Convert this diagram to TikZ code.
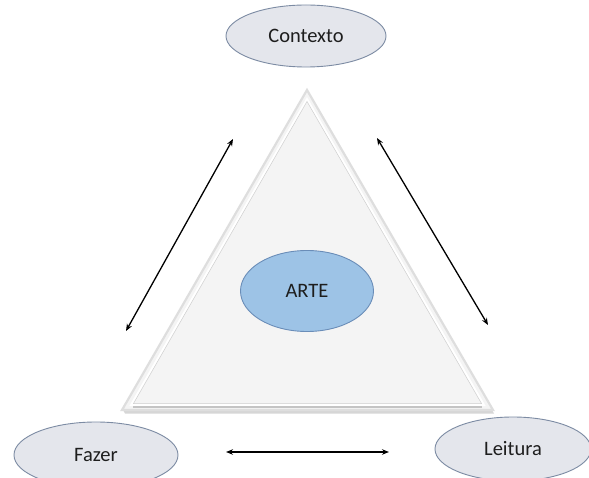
\documentclass[tikz,border=0pt]{standalone}
\usepackage{fontspec}
\setmainfont{Carlito}
\usetikzlibrary{shapes.geometric,arrows.meta,calc}
\definecolor{ovalfill}{HTML}{E4E6EC}
\definecolor{ovalline}{HTML}{7C8BA3}
\definecolor{artefill}{HTML}{9DC3E6}
\definecolor{arteline}{HTML}{6A8DB8}
\definecolor{trifill}{HTML}{F4F4F4}
\definecolor{triedge}{HTML}{DEDEDE}
\definecolor{trishade}{HTML}{C4C4C4}
\definecolor{textdark}{HTML}{1E1E1E}
\tikzset{
  oval/.style={ellipse, draw=ovalline, fill=ovalfill, line width=0.9pt,
    minimum width=160pt, minimum height=62pt, inner sep=0pt,
    font=\fontsize{20.5}{24}\selectfont, text=textdark},
  coreoval/.style={ellipse, draw=arteline, fill=artefill, line width=0.9pt,
    minimum width=133pt, minimum height=81pt, inner sep=0pt,
    font=\fontsize{20.5}{24}\selectfont, text=textdark},
  link/.style={line width=1.3pt, black, {Stealth[length=7pt,width=5.5pt]}-{Stealth[length=7pt,width=5.5pt]}}
}
\begin{document}
\begin{tikzpicture}[x=1pt,y=-1pt]
  \useasboundingbox (0,0) rectangle (589,478);
  \fill[white] (0,0) rectangle (589,478);

  % bevelled triangle
  \coordinate (apex) at (307,90);
  \coordinate (bl) at (122,410);
  \coordinate (br) at (493,410);
  \fill[trishade!70] ($(bl)+(3,3.5)$) -- ($(br)+(1,3.5)$) -- ($(br)+(-1,0)$) -- ($(bl)+(1,0)$) -- cycle;
  \filldraw[fill=trifill, draw=triedge, line width=2.2pt, line join=miter] (apex) -- (br) -- (bl) -- cycle;
  \draw[white, line width=2pt] ($(apex)+(0,9)$) -- ($(br)+(-9,-5)$) -- ($(bl)+(9,-5)$) -- cycle;
  \draw[trishade!80, line width=0.5pt] ($(apex)+(0,11.5)$) -- ($(br)+(-11.5,-6.5)$) -- ($(bl)+(11.5,-6.5)$) -- cycle;
  \draw[trishade, line width=1.6pt] ($(bl)+(11,-3.2)$) -- ($(br)+(-11,-3.2)$);

  % concept ovals
  \node[oval] (contexto) at (306,36) {Contexto};
  \node[oval, minimum width=164pt, minimum height=66pt] (fazer) at (96,455) {Fazer};
  \node[oval, minimum width=156pt, minimum height=64pt] (leitura) at (513,449) {Leitura};
  \node[coreoval] (arte) at (307,291) {ARTE};

  % two-way relations between the corners
  \coordinate (l1) at (126,331);
  \coordinate (l2) at (233,139);
  \coordinate (r1) at (377,138);
  \coordinate (r2) at (488,325);
  \coordinate (b1) at (226,452);
  \coordinate (b2) at (389,452);
  \draw[link] (l1) -- (l2);
  \draw[link] (r1) -- (r2);
  \draw[link] (b1) -- (b2);
\end{tikzpicture}
\end{document}
